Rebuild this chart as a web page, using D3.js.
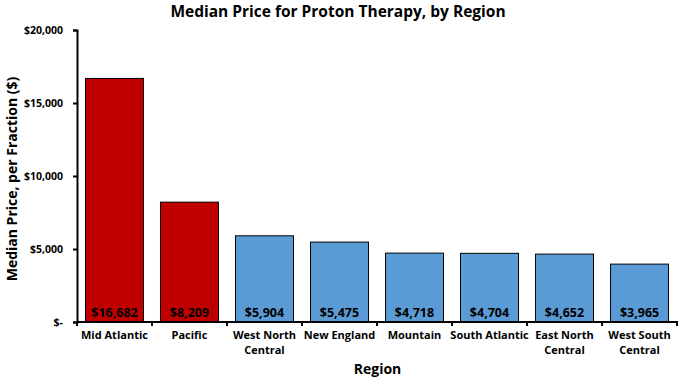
<!DOCTYPE html>
<html><head><meta charset="utf-8">
<script src="https://cdn.jsdelivr.net/npm/d3@7"></script>
<style>body{margin:0;background:#fff}svg{display:block}text{font-family:"Open Sans",sans-serif;font-weight:bold}</style>
</head><body><svg id="c" width="678" height="378"></svg>
<script>
const categories = [["Mid Atlantic"],["Pacific"],["West North","Central"],["New England"],["Mountain"],["South Atlantic"],["East North","Central"],["West South","Central"]];
const values = [16682, 8209, 5904, 5475, 4718, 4704, 4652, 3965];
const highlighted = [true, true, false, false, false, false, false, false];
const yTicks = [0, 5000, 10000, 15000, 20000];

const svg = d3.select("#c");
const m = {l:77, r:1, t:30, b:56};
const W = 678, H = 378;
const keys = categories.map(c => c.join(" "));
const x = d3.scaleBand().domain(keys).range([m.l, W - m.r]).paddingInner(0.227).paddingOuter(0.113);
const y = d3.scaleLinear().domain([0, 20000]).range([H - m.b, m.t]);
const fmt = v => v === 0 ? "$-" : "$" + d3.format(",")(v);

svg.append("text").attr("x", 338).attr("y", 17).attr("text-anchor","middle").attr("font-size",15.5).text("Median Price for Proton Therapy, by Region");

svg.selectAll("rect.bar").data(values).join("rect").attr("class","bar")
  .attr("x",(d,i)=>x(keys[i])).attr("width",x.bandwidth())
  .attr("y",d=>y(d)).attr("height",d=>y(0)-y(d))
  .attr("fill",(d,i)=>highlighted[i]?"#C00000":"#5B9BD5").attr("stroke","#000").attr("stroke-width",1);

svg.selectAll("text.val").data(values).join("text").attr("class","val")
  .attr("x",(d,i)=>x(keys[i])+x.bandwidth()/2).attr("y",y(0)-5)
  .attr("text-anchor","middle").attr("font-size",12.5).text(d=>fmt(d));

const ya = svg.append("g").attr("transform",`translate(${m.l},0)`)
  .call(d3.axisLeft(y).tickValues(yTicks).tickFormat(fmt).tickSize(4).tickPadding(10));
ya.select(".domain").attr("stroke","#000").attr("stroke-width",2);
ya.selectAll(".tick line").attr("stroke","#000").attr("stroke-width",2);
ya.selectAll(".tick text").attr("font-size",10.5).attr("fill","#000").attr("font-family","'Open Sans',sans-serif").attr("font-weight","bold");

// x axis with boundary ticks
const xa = svg.append("g");
xa.append("line").attr("x1",m.l).attr("x2",W).attr("y1",y(0)).attr("y2",y(0)).attr("stroke","#000").attr("stroke-width",2);
const step = x.step();
const bounds = d3.range(keys.length + 1).map(i => m.l + i * step);
xa.selectAll("line.t").data(bounds).join("line").attr("class","t")
  .attr("x1",d=>d).attr("x2",d=>d).attr("y1",y(0)).attr("y2",y(0)+4).attr("stroke","#000").attr("stroke-width",2);
categories.forEach((c,i)=>{
  const t = xa.append("text").attr("x",x(keys[i])+x.bandwidth()/2).attr("y",y(0)+17).attr("text-anchor","middle").attr("font-size",11);
  c.forEach((line,j)=>t.append("tspan").attr("x",x(keys[i])+x.bandwidth()/2).attr("dy",j?15:0).text(line));
});

svg.append("text").attr("x",(m.l+W)/2).attr("y",374).attr("text-anchor","middle").attr("font-size",14).text("Region");
svg.append("text").attr("transform",`translate(17,${(m.t+y(0))/2 + 3}) rotate(-90)`).attr("text-anchor","middle").attr("font-size",14).text("Median Price, per Fraction ($)");
</script></body></html>
